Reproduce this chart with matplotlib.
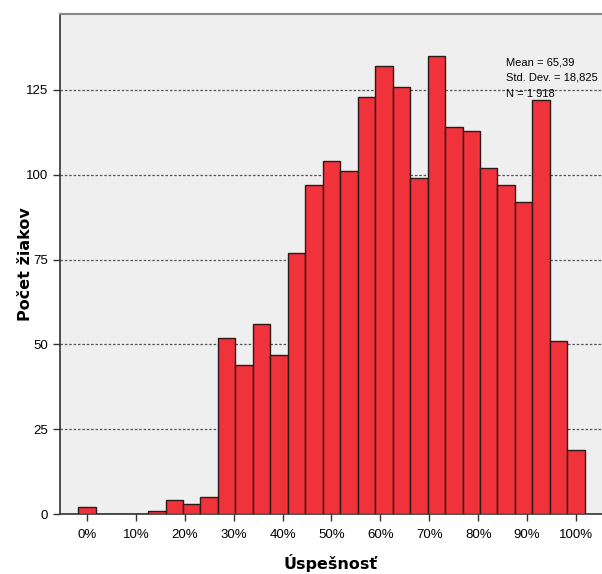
import numpy as np
import matplotlib.pyplot as plt

# stredy intervalov (v %) a pocty ziakov
stredy = [k * 100 / 28 for k in range(29)]
pocty = [2, 0, 0, 0, 1, 4, 3, 5, 52, 44, 56, 47, 77, 97, 104, 101,
         123, 132, 126, 99, 135, 114, 113, 102, 97, 92, 122, 51, 19]
y_ticks = [0, 25, 50, 75, 100, 125]
x_ticks = [0, 10, 20, 30, 40, 50, 60, 70, 80, 90, 100]
x_labels = ['0%', '10%', '20%', '30%', '40%', '50%', '60%', '70%', '80%', '90%', '100%']
stat_text = 'Mean = 65,39\nStd. Dev. = 18,825\nN = 1 918'

narrow = ['Liberation Sans Narrow', 'Liberation Sans', 'DejaVu Sans']

fig = plt.figure(figsize=(6.02, 5.74), dpi=100)
ax = fig.add_axes([0.0997, 0.1045, 0.9003, 0.8711])
ax.set_facecolor('#efefef')

sirka = 100 / 28
ax.bar(stredy, pocty, width=sirka, color='#f0323a', edgecolor='#2a1a1a',
       linewidth=1.0, zorder=3)

ax.set_xlim(-5.5, 105.3)
ax.set_ylim(0, 147.4)
ax.set_yticks(y_ticks)
ax.set_yticklabels([str(t) for t in y_ticks], family=narrow, fontsize=9.5)
ax.set_xticks(x_ticks)
ax.set_xticklabels(x_labels, family=narrow, fontsize=9.5)
ax.tick_params(axis='both', length=5, width=1, color='#333333')
ax.tick_params(axis='x', pad=6)

for t in y_ticks[1:]:
    ax.axhline(t, color='#555555', linestyle=(0, (2, 1.5)), linewidth=0.9, zorder=1)

ax.spines['right'].set_visible(False)
ax.spines['top'].set_color('#888888')
ax.spines['top'].set_linewidth(1.5)
ax.spines['left'].set_color('#333333')
ax.spines['bottom'].set_color('#333333')
ax.spines['left'].set_linewidth(1.2)
ax.spines['bottom'].set_linewidth(1.2)

ax.set_ylabel('Počet žiakov', fontsize=11.5, fontweight='bold')
ax.yaxis.set_label_coords(-0.05, 0.5)
ax.set_xlabel('Úspešnosť', fontsize=11.5, fontweight='bold', labelpad=9)

ax.text(0.822, 0.914, stat_text, transform=ax.transAxes, family=narrow,
        fontsize=8, va='top', ha='left', linespacing=1.72, zorder=5)

fig.savefig('out.png', dpi=100)
